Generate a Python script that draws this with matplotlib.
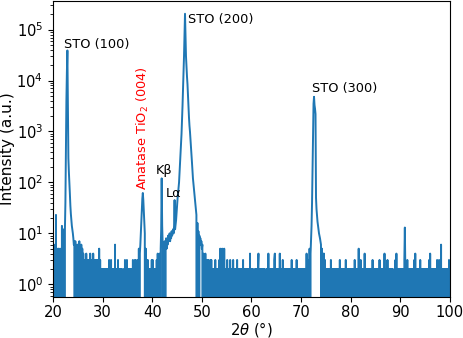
import matplotlib
matplotlib.use("Agg")
import matplotlib.pyplot as plt
import numpy as np

# 2theta grid of the scan
start = 20.0
step = 0.1

# background counts, one digit per 0.1 deg, 5 deg per row
# (the "0" runs inside peaks are filled in from the peak lists below)
background = (
    "5060400040" "5050305000" "0000" + "0" * 20 + "070506"              # 20-25
    "0507040605" "0403030403" "0303040303" "0403030303" "0305030202"    # 25-30
    "0202020202" "0203020302" "0202060202" "0302020202" "1102030203"    # 30-35
    "0202020202" "0302030302" "03050" + "0" * 11 + "0503" "0302020203"  # 35-40
    "0302020203" "0403040" + "0" * 33 +                                 # 40-45
    "0" * 50 +                                                          # 45-50
    "000" "4030403" "0303020303" "0202020302" "0202030502" "0502050202"  # 50-55
    "0302020302" "0203020202" "0302020202" "0203020202" "0202020402"    # 55-60
    "0202110202" "0202402020" "2020202110" "2020402020" "2020203402"    # 60-65
    "0202020402" "0203020202" "0202020202" "0302020202" "0302020202"    # 65-70
    "0202020202" "0402030504" + "0" * 21 + "050404030"                  # 70-75
    "2020202020" "3020202020" "2020202030" "2020202020" "3020202020"    # 75-80
    "2020202030" "2020205020" "3020202040" "2020202020" "2020302020"    # 80-85
    "2020202030" "2020202040" "2020302020" "2020201120" "3040202020"    # 85-90
    "2020202030" "2020302020" "2020202030" "4020202020" "3020202020"    # 90-95
    "2020202030" "4020202020" "2020302030" "2060202020" "2020202030"    # 95-100
    "2"
)

# peaks and spikes: first angle, counts every 0.1 deg
peak_starts = [20.6, 21.8, 22.4, 37.5, 41.7, 72.0, 90.9]
peak_counts = [
    [23],
    [14, 0, 10, 0, 12, 0],
    # STO (100)
    [12, 40, 500, 4000, 15000, 39000, 3000, 300, 160, 100,
     60, 35, 24, 18, 14, 12, 10, 8, 6, 7],
    # anatase TiO2 (004)
    [4, 6, 10, 16, 28, 48, 62, 45, 28, 16, 10],
    # K-beta, L-alpha and STO (200)
    [5, 12, 120, 14, 6, 0, 5, 0, 7, 0,
     6, 8, 5, 7, 6, 9, 7, 8, 10, 7,
     9, 8, 11, 9, 10, 12, 10, 14, 45, 12,
     15, 18, 25, 35, 48, 62, 80, 100, 155, 240,
     370, 580, 900, 1600, 3200, 6500, 13000, 30000, 80000, 205000,
     70000, 30000, 18000, 12000, 8500, 5000, 3000, 1900, 1300, 1000,
     720, 500, 350, 250, 170, 120, 95, 75, 60, 48,
     38, 30, 23, 0, 16, 0, 11, 0, 9, 7,
     8, 6, 7, 5, 6, 0],
    # STO (300)
    [8, 14, 40, 180, 1100, 3500, 4800, 3300, 2800, 2200,
     50, 30, 22, 17, 14, 12, 10, 9, 8, 7, 6],
    [13],
]

counts = np.array([int(c) for c in background], dtype=float)
for s, vals in zip(peak_starts, peak_counts):
    i = int(round((s - start) / step))
    counts[i:i + len(vals)] = vals
two_theta = start + step * np.arange(len(counts))

fig = plt.figure(figsize=(4.64, 3.38), dpi=100)
ax = fig.add_axes([53 / 464, 41.3 / 338, 397 / 464, 296 / 338])

ax.plot(two_theta, counts, color="#1f77b4", lw=1.4)
ax.set_yscale("log", nonpositive="clip")
ax.set_xlim(20, 100)
ax.set_ylim(0.57, 3.7e5)

ax.tick_params(labelsize=10.6)
ax.tick_params(axis="x", pad=2.5)
ax.set_xlabel(r"2$\theta$ (°)", fontsize=10.6)
ax.set_ylabel("Intensity (a.u.)", fontsize=11.1)
ax.xaxis.set_label_coords(0.5, -0.08)
ax.yaxis.set_label_coords(-0.095, 0.5)

fs = 9.3
ax.text(22.28, 4.4e4, "STO (100)", fontsize=fs, va="baseline", ha="left")
ax.text(47.27, 1.36e5, "STO (200)", fontsize=fs, va="baseline", ha="left")
ax.text(72.11, 5900, "STO (300)", fontsize=fs, va="baseline", ha="left")
ax.text(40.75, 146, "Kβ", fontsize=fs, va="baseline", ha="left")
ax.text(42.77, 51, "Lα", fontsize=fs, va="baseline", ha="left")
ax.text(38.05, 70, r"Anatase TiO$_2$ (004)", fontsize=fs, color="red",
        rotation=90, ha="center", va="bottom")

fig.savefig("out.png", dpi=100)
